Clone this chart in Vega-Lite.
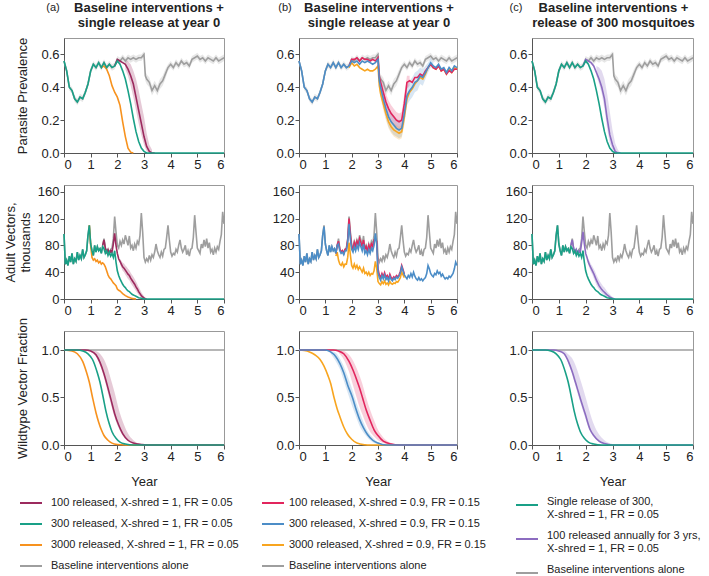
{
"$schema":"https://vega.github.io/schema/vega-lite/v6.json",
"padding":{"left":3,"top":1,"right":2,"bottom":2},
"background":"white",
"config":{
 "font":"Liberation Sans",
 "view":{"stroke":"#999","strokeWidth":1},
 "axis":{"labelFontSize":13,"titleFontSize":13,"titleFontWeight":"normal","labelColor":"#222","titleColor":"#222","domainColor":"#555","tickColor":"#555","tickSize":4,"labelPadding":1,"grid":false},
 "axisY":{"titlePadding":11},
 "axisX":{"titlePadding":12},
 "legend":{"symbolType":"stroke","symbolSize":484,"symbolStrokeWidth":2,"labelFontSize":11,"labelColor":"#222","labelLimit":400,"rowPadding":4,"padding":0,"direction":"vertical","symbolOpacity":1}
},
"datasets":{
"lab":[
{"col":"a","kind":"tag","lab":"(a)","t":0,"v":0.7},{"col":"b","kind":"tag","lab":"(b)","t":0,"v":0.7},{"col":"c","kind":"tag","lab":"(c)","t":0,"v":0.7},
{"col":"a","kind":"title","lab":"Baseline interventions +\nsingle release at year 0","t":3,"v":0.7},
{"col":"b","kind":"title","lab":"Baseline interventions +\nsingle release at year 0","t":3,"v":0.7},
{"col":"c","kind":"title","lab":"Baseline interventions +\nrelease of 300 mosquitoes","t":3,"v":0.7}
],
"prev":[
{"t":0,"s":"base","v":0.56,"lo":0.54,"hi":0.58},{"t":0.1,"s":"base","v":0.50,"lo":0.48,"hi":0.52},{"t":0.2,"s":"base","v":0.40,"lo":0.38,"hi":0.42},{"t":0.3,"s":"base","v":0.38,"lo":0.36,"hi":0.40},{"t":0.4,"s":"base","v":0.33,"lo":0.31,"hi":0.35},{"t":0.5,"s":"base","v":0.31,"lo":0.29,"hi":0.33},{"t":0.6,"s":"base","v":0.34,"lo":0.32,"hi":0.36},{"t":0.7,"s":"base","v":0.33,"lo":0.31,"hi":0.35},{"t":0.8,"s":"base","v":0.37,"lo":0.35,"hi":0.39},{"t":0.9,"s":"base","v":0.42,"lo":0.40,"hi":0.44},
{"t":1,"s":"base","v":0.50,"lo":0.48,"hi":0.52},{"t":1.1,"s":"base","v":0.54,"lo":0.52,"hi":0.56},{"t":1.2,"s":"base","v":0.52,"lo":0.50,"hi":0.54},{"t":1.3,"s":"base","v":0.55,"lo":0.53,"hi":0.57},{"t":1.4,"s":"base","v":0.52,"lo":0.50,"hi":0.54},{"t":1.5,"s":"base","v":0.55,"lo":0.53,"hi":0.57},{"t":1.6,"s":"base","v":0.52,"lo":0.50,"hi":0.54},{"t":1.7,"s":"base","v":0.54,"lo":0.52,"hi":0.56},{"t":1.8,"s":"base","v":0.52,"lo":0.50,"hi":0.54},{"t":1.9,"s":"base","v":0.53,"lo":0.51,"hi":0.55},
{"t":2,"s":"base","v":0.57,"lo":0.55,"hi":0.59},{"t":2.1,"s":"base","v":0.56,"lo":0.54,"hi":0.58},{"t":2.2,"s":"base","v":0.58,"lo":0.56,"hi":0.60},{"t":2.3,"s":"base","v":0.56,"lo":0.54,"hi":0.58},{"t":2.4,"s":"base","v":0.58,"lo":0.56,"hi":0.60},{"t":2.5,"s":"base","v":0.57,"lo":0.55,"hi":0.59},{"t":2.6,"s":"base","v":0.58,"lo":0.56,"hi":0.60},{"t":2.7,"s":"base","v":0.57,"lo":0.55,"hi":0.59},{"t":2.8,"s":"base","v":0.58,"lo":0.56,"hi":0.60},{"t":2.9,"s":"base","v":0.58,"lo":0.56,"hi":0.60},
{"t":3,"s":"base","v":0.60,"lo":0.58,"hi":0.62},{"t":3.05,"s":"base","v":0.47,"lo":0.44,"hi":0.50},{"t":3.1,"s":"base","v":0.45,"lo":0.42,"hi":0.48},{"t":3.2,"s":"base","v":0.43,"lo":0.40,"hi":0.46},{"t":3.3,"s":"base","v":0.38,"lo":0.35,"hi":0.41},{"t":3.4,"s":"base","v":0.41,"lo":0.38,"hi":0.44},{"t":3.5,"s":"base","v":0.38,"lo":0.35,"hi":0.41},{"t":3.6,"s":"base","v":0.42,"lo":0.39,"hi":0.45},{"t":3.7,"s":"base","v":0.44,"lo":0.41,"hi":0.47},{"t":3.8,"s":"base","v":0.48,"lo":0.45,"hi":0.51},{"t":3.9,"s":"base","v":0.52,"lo":0.50,"hi":0.54},
{"t":4,"s":"base","v":0.54,"lo":0.52,"hi":0.56},{"t":4.1,"s":"base","v":0.52,"lo":0.50,"hi":0.54},{"t":4.2,"s":"base","v":0.55,"lo":0.53,"hi":0.57},{"t":4.3,"s":"base","v":0.53,"lo":0.51,"hi":0.55},{"t":4.4,"s":"base","v":0.56,"lo":0.54,"hi":0.58},{"t":4.5,"s":"base","v":0.54,"lo":0.52,"hi":0.56},{"t":4.6,"s":"base","v":0.55,"lo":0.53,"hi":0.57},{"t":4.7,"s":"base","v":0.53,"lo":0.51,"hi":0.55},{"t":4.8,"s":"base","v":0.57,"lo":0.55,"hi":0.59},{"t":4.9,"s":"base","v":0.58,"lo":0.56,"hi":0.60},
{"t":5,"s":"base","v":0.59,"lo":0.57,"hi":0.61},{"t":5.1,"s":"base","v":0.57,"lo":0.55,"hi":0.59},{"t":5.2,"s":"base","v":0.58,"lo":0.56,"hi":0.60},{"t":5.3,"s":"base","v":0.56,"lo":0.54,"hi":0.58},{"t":5.4,"s":"base","v":0.58,"lo":0.56,"hi":0.60},{"t":5.5,"s":"base","v":0.57,"lo":0.55,"hi":0.59},{"t":5.6,"s":"base","v":0.56,"lo":0.54,"hi":0.58},{"t":5.7,"s":"base","v":0.58,"lo":0.56,"hi":0.60},{"t":5.8,"s":"base","v":0.56,"lo":0.54,"hi":0.58},{"t":5.9,"s":"base","v":0.57,"lo":0.55,"hi":0.59},{"t":6,"s":"base","v":0.58,"lo":0.56,"hi":0.60},

{"t":0,"s":"a300","v":0.56},{"t":0.1,"s":"a300","v":0.50},{"t":0.2,"s":"a300","v":0.40},{"t":0.3,"s":"a300","v":0.38},{"t":0.4,"s":"a300","v":0.33},{"t":0.5,"s":"a300","v":0.31},{"t":0.6,"s":"a300","v":0.34},{"t":0.7,"s":"a300","v":0.33},{"t":0.8,"s":"a300","v":0.37},{"t":0.9,"s":"a300","v":0.42},{"t":1,"s":"a300","v":0.50},{"t":1.1,"s":"a300","v":0.54},{"t":1.2,"s":"a300","v":0.52},{"t":1.3,"s":"a300","v":0.55},{"t":1.4,"s":"a300","v":0.52},{"t":1.5,"s":"a300","v":0.55},{"t":1.6,"s":"a300","v":0.52},{"t":1.7,"s":"a300","v":0.54},{"t":1.8,"s":"a300","v":0.52},{"t":1.9,"s":"a300","v":0.53},{"t":2,"s":"a300","v":0.56},{"t":2.1,"s":"a300","v":0.54},{"t":2.2,"s":"a300","v":0.50},{"t":2.3,"s":"a300","v":0.45},{"t":2.4,"s":"a300","v":0.38},{"t":2.5,"s":"a300","v":0.30},{"t":2.6,"s":"a300","v":0.21},{"t":2.7,"s":"a300","v":0.13},{"t":2.8,"s":"a300","v":0.07},{"t":2.9,"s":"a300","v":0.03},{"t":3,"s":"a300","v":0.01},{"t":3.1,"s":"a300","v":0},{"t":6,"s":"a300","v":0},

{"t":1.9,"s":"a100","v":0.53},{"t":2,"s":"a100","v":0.57},{"t":2.1,"s":"a100","v":0.56},{"t":2.2,"s":"a100","v":0.55},{"t":2.3,"s":"a100","v":0.54,"lo":0.51,"hi":0.57},{"t":2.4,"s":"a100","v":0.51,"lo":0.47,"hi":0.56},{"t":2.5,"s":"a100","v":0.47,"lo":0.41,"hi":0.54},{"t":2.6,"s":"a100","v":0.42,"lo":0.34,"hi":0.50},{"t":2.7,"s":"a100","v":0.34,"lo":0.26,"hi":0.45},{"t":2.8,"s":"a100","v":0.26,"lo":0.18,"hi":0.38},{"t":2.9,"s":"a100","v":0.18,"lo":0.11,"hi":0.30},{"t":3,"s":"a100","v":0.10,"lo":0.05,"hi":0.22},{"t":3.1,"s":"a100","v":0.04,"lo":0.01,"hi":0.12},{"t":3.2,"s":"a100","v":0.01,"lo":0,"hi":0.05},{"t":3.3,"s":"a100","v":0,"lo":0,"hi":0.02},{"t":3.4,"s":"a100","v":0},

{"t":1.4,"s":"a3000","v":0.52},{"t":1.5,"s":"a3000","v":0.53},{"t":1.6,"s":"a3000","v":0.51},{"t":1.7,"s":"a3000","v":0.47},{"t":1.8,"s":"a3000","v":0.41},{"t":1.9,"s":"a3000","v":0.37},{"t":2,"s":"a3000","v":0.34},{"t":2.1,"s":"a3000","v":0.29},{"t":2.2,"s":"a3000","v":0.19},{"t":2.3,"s":"a3000","v":0.10},{"t":2.4,"s":"a3000","v":0.03},{"t":2.5,"s":"a3000","v":0.005},{"t":2.6,"s":"a3000","v":0},

{"t":1.9,"s":"c100","v":0.53},{"t":2,"s":"c100","v":0.57},{"t":2.1,"s":"c100","v":0.56},{"t":2.2,"s":"c100","v":0.55},{"t":2.3,"s":"c100","v":0.53},{"t":2.4,"s":"c100","v":0.49,"lo":0.47,"hi":0.53},{"t":2.5,"s":"c100","v":0.45,"lo":0.42,"hi":0.52},{"t":2.6,"s":"c100","v":0.40,"lo":0.36,"hi":0.50},{"t":2.7,"s":"c100","v":0.33,"lo":0.27,"hi":0.45},{"t":2.8,"s":"c100","v":0.21,"lo":0.15,"hi":0.36},{"t":2.9,"s":"c100","v":0.11,"lo":0.06,"hi":0.25},{"t":3,"s":"c100","v":0.05,"lo":0.02,"hi":0.14},{"t":3.1,"s":"c100","v":0.01,"lo":0,"hi":0.06},{"t":3.2,"s":"c100","v":0,"lo":0,"hi":0.02},{"t":3.3,"s":"c100","v":0,"lo":0,"hi":0},

{"t":0,"s":"b300","v":0.56},{"t":0.1,"s":"b300","v":0.50},{"t":0.2,"s":"b300","v":0.40},{"t":0.3,"s":"b300","v":0.38},{"t":0.4,"s":"b300","v":0.33},{"t":0.5,"s":"b300","v":0.31},{"t":0.6,"s":"b300","v":0.34},{"t":0.7,"s":"b300","v":0.33},{"t":0.8,"s":"b300","v":0.37},{"t":0.9,"s":"b300","v":0.42},{"t":1,"s":"b300","v":0.50},{"t":1.1,"s":"b300","v":0.54},{"t":1.2,"s":"b300","v":0.52},{"t":1.3,"s":"b300","v":0.55},{"t":1.4,"s":"b300","v":0.52},{"t":1.5,"s":"b300","v":0.55},{"t":1.6,"s":"b300","v":0.52},{"t":1.7,"s":"b300","v":0.54},{"t":1.8,"s":"b300","v":0.52},{"t":1.9,"s":"b300","v":0.53},
{"t":2,"s":"b300","v":0.56},{"t":2.1,"s":"b300","v":0.55},{"t":2.2,"s":"b300","v":0.56},{"t":2.3,"s":"b300","v":0.54},{"t":2.4,"s":"b300","v":0.56},{"t":2.5,"s":"b300","v":0.55},{"t":2.6,"s":"b300","v":0.56},{"t":2.7,"s":"b300","v":0.55},{"t":2.8,"s":"b300","v":0.54},{"t":2.9,"s":"b300","v":0.55},{"t":3,"s":"b300","v":0.57,"lo":0.55,"hi":0.59},{"t":3.05,"s":"b300","v":0.44,"lo":0.40,"hi":0.48},{"t":3.1,"s":"b300","v":0.40,"lo":0.35,"hi":0.45},{"t":3.2,"s":"b300","v":0.33,"lo":0.28,"hi":0.38},{"t":3.3,"s":"b300","v":0.27,"lo":0.21,"hi":0.33},{"t":3.4,"s":"b300","v":0.22,"lo":0.16,"hi":0.28},{"t":3.5,"s":"b300","v":0.19,"lo":0.13,"hi":0.25},{"t":3.6,"s":"b300","v":0.17,"lo":0.11,"hi":0.23},{"t":3.7,"s":"b300","v":0.15,"lo":0.10,"hi":0.21},{"t":3.8,"s":"b300","v":0.14,"lo":0.09,"hi":0.20},{"t":3.9,"s":"b300","v":0.15,"lo":0.10,"hi":0.21},
{"t":4,"s":"b300","v":0.24,"lo":0.18,"hi":0.30},{"t":4.1,"s":"b300","v":0.35,"lo":0.29,"hi":0.41},{"t":4.2,"s":"b300","v":0.38,"lo":0.32,"hi":0.44},{"t":4.3,"s":"b300","v":0.40,"lo":0.34,"hi":0.46},{"t":4.4,"s":"b300","v":0.43,"lo":0.37,"hi":0.49},{"t":4.5,"s":"b300","v":0.44,"lo":0.38,"hi":0.50},{"t":4.6,"s":"b300","v":0.47,"lo":0.42,"hi":0.52},{"t":4.7,"s":"b300","v":0.46,"lo":0.41,"hi":0.51},{"t":4.8,"s":"b300","v":0.49,"lo":0.45,"hi":0.53},{"t":4.9,"s":"b300","v":0.52,"lo":0.49,"hi":0.55},{"t":5,"s":"b300","v":0.55,"lo":0.52,"hi":0.58},{"t":5.1,"s":"b300","v":0.53,"lo":0.51,"hi":0.55},{"t":5.2,"s":"b300","v":0.52},{"t":5.3,"s":"b300","v":0.54},{"t":5.4,"s":"b300","v":0.51},{"t":5.5,"s":"b300","v":0.52},{"t":5.6,"s":"b300","v":0.49},{"t":5.7,"s":"b300","v":0.52},{"t":5.8,"s":"b300","v":0.50},{"t":5.9,"s":"b300","v":0.53},{"t":6,"s":"b300","v":0.52},

{"t":1.9,"s":"b100","v":0.53},{"t":2,"s":"b100","v":0.57},{"t":2.1,"s":"b100","v":0.57},{"t":2.2,"s":"b100","v":0.58},{"t":2.3,"s":"b100","v":0.56},{"t":2.4,"s":"b100","v":0.58},{"t":2.5,"s":"b100","v":0.57},{"t":2.6,"s":"b100","v":0.57},{"t":2.7,"s":"b100","v":0.56},{"t":2.8,"s":"b100","v":0.57},{"t":2.9,"s":"b100","v":0.56},{"t":3,"s":"b100","v":0.58,"lo":0.56,"hi":0.60},{"t":3.05,"s":"b100","v":0.46,"lo":0.43,"hi":0.49},{"t":3.1,"s":"b100","v":0.43,"lo":0.39,"hi":0.47},{"t":3.2,"s":"b100","v":0.37,"lo":0.32,"hi":0.42},{"t":3.3,"s":"b100","v":0.31,"lo":0.26,"hi":0.36},{"t":3.4,"s":"b100","v":0.27,"lo":0.22,"hi":0.32},{"t":3.5,"s":"b100","v":0.24,"lo":0.19,"hi":0.29},{"t":3.6,"s":"b100","v":0.22,"lo":0.17,"hi":0.27},{"t":3.7,"s":"b100","v":0.20,"lo":0.15,"hi":0.25},{"t":3.8,"s":"b100","v":0.19,"lo":0.14,"hi":0.24},{"t":3.9,"s":"b100","v":0.20,"lo":0.15,"hi":0.25},{"t":4,"s":"b100","v":0.30,"lo":0.24,"hi":0.36},{"t":4.1,"s":"b100","v":0.43,"lo":0.39,"hi":0.47},{"t":4.2,"s":"b100","v":0.44,"lo":0.41,"hi":0.47},{"t":4.3,"s":"b100","v":0.43},{"t":4.4,"s":"b100","v":0.46},{"t":4.5,"s":"b100","v":0.46},{"t":4.6,"s":"b100","v":0.48},{"t":4.7,"s":"b100","v":0.47},{"t":4.8,"s":"b100","v":0.50},{"t":4.9,"s":"b100","v":0.52},{"t":5,"s":"b100","v":0.54},{"t":5.1,"s":"b100","v":0.52},{"t":5.2,"s":"b100","v":0.51},{"t":5.3,"s":"b100","v":0.53},{"t":5.4,"s":"b100","v":0.50},{"t":5.5,"s":"b100","v":0.51},{"t":5.6,"s":"b100","v":0.48},{"t":5.7,"s":"b100","v":0.50},{"t":5.8,"s":"b100","v":0.49},{"t":5.9,"s":"b100","v":0.51},{"t":6,"s":"b100","v":0.51},

{"t":1.9,"s":"b3000","v":0.52},{"t":2,"s":"b3000","v":0.55},{"t":2.1,"s":"b3000","v":0.53},{"t":2.2,"s":"b3000","v":0.54},{"t":2.3,"s":"b3000","v":0.52},{"t":2.4,"s":"b3000","v":0.51},{"t":2.5,"s":"b3000","v":0.50},{"t":2.6,"s":"b3000","v":0.51},{"t":2.7,"s":"b3000","v":0.50},{"t":2.8,"s":"b3000","v":0.50},{"t":2.9,"s":"b3000","v":0.51},{"t":3,"s":"b3000","v":0.53,"lo":0.51,"hi":0.55},{"t":3.05,"s":"b3000","v":0.41,"lo":0.38,"hi":0.44},{"t":3.1,"s":"b3000","v":0.36,"lo":0.33,"hi":0.39},{"t":3.2,"s":"b3000","v":0.30,"lo":0.26,"hi":0.34},{"t":3.3,"s":"b3000","v":0.24,"lo":0.20,"hi":0.28},{"t":3.4,"s":"b3000","v":0.19,"lo":0.15,"hi":0.23},{"t":3.5,"s":"b3000","v":0.16,"lo":0.12,"hi":0.20},{"t":3.6,"s":"b3000","v":0.14,"lo":0.10,"hi":0.18},{"t":3.7,"s":"b3000","v":0.13,"lo":0.09,"hi":0.17},{"t":3.8,"s":"b3000","v":0.12,"lo":0.08,"hi":0.16},{"t":3.9,"s":"b3000","v":0.13,"lo":0.09,"hi":0.17},{"t":4,"s":"b3000","v":0.22,"lo":0.17,"hi":0.27},{"t":4.1,"s":"b3000","v":0.33,"lo":0.29,"hi":0.37},{"t":4.2,"s":"b3000","v":0.37},{"t":4.3,"s":"b3000","v":0.39},{"t":4.4,"s":"b3000","v":0.42},{"t":4.5,"s":"b3000","v":0.44},{"t":4.6,"s":"b3000","v":0.46},{"t":4.7,"s":"b3000","v":0.45},{"t":4.8,"s":"b3000","v":0.48},{"t":4.9,"s":"b3000","v":0.52},{"t":5,"s":"b3000","v":0.54},{"t":5.1,"s":"b3000","v":0.52},{"t":5.2,"s":"b3000","v":0.51},{"t":5.3,"s":"b3000","v":0.53},{"t":5.4,"s":"b3000","v":0.50},{"t":5.5,"s":"b3000","v":0.51},{"t":5.6,"s":"b3000","v":0.48},{"t":5.7,"s":"b3000","v":0.51},{"t":5.8,"s":"b3000","v":0.49},{"t":5.9,"s":"b3000","v":0.52},{"t":6,"s":"b3000","v":0.51}
],
"vec":[
{"t":0,"s":"base","v":97},{"t":0.05,"s":"base","v":52},{"t":0.1,"s":"base","v":58},{"t":0.15,"s":"base","v":50},{"t":0.2,"s":"base","v":64},{"t":0.25,"s":"base","v":55},{"t":0.3,"s":"base","v":68},{"t":0.35,"s":"base","v":52},{"t":0.4,"s":"base","v":60},{"t":0.45,"s":"base","v":56},{"t":0.5,"s":"base","v":70},{"t":0.55,"s":"base","v":58},{"t":0.6,"s":"base","v":65},{"t":0.65,"s":"base","v":60},{"t":0.7,"s":"base","v":74},{"t":0.75,"s":"base","v":62},{"t":0.8,"s":"base","v":66},{"t":0.85,"s":"base","v":72},{"t":0.9,"s":"base","v":95},{"t":0.95,"s":"base","v":110},
{"t":1,"s":"base","v":82},{"t":1.05,"s":"base","v":72},{"t":1.1,"s":"base","v":65},{"t":1.15,"s":"base","v":80},{"t":1.2,"s":"base","v":70},{"t":1.25,"s":"base","v":78},{"t":1.3,"s":"base","v":72},{"t":1.35,"s":"base","v":75},{"t":1.4,"s":"base","v":68},{"t":1.45,"s":"base","v":80},{"t":1.5,"s":"base","v":90},{"t":1.55,"s":"base","v":75},{"t":1.6,"s":"base","v":70},{"t":1.65,"s":"base","v":72},{"t":1.7,"s":"base","v":68},{"t":1.75,"s":"base","v":74},{"t":1.8,"s":"base","v":76},{"t":1.85,"s":"base","v":90},{"t":1.9,"s":"base","v":123},{"t":1.95,"s":"base","v":100},
{"t":2,"s":"base","v":80},{"t":2.05,"s":"base","v":76},{"t":2.1,"s":"base","v":86},{"t":2.15,"s":"base","v":80},{"t":2.2,"s":"base","v":88},{"t":2.25,"s":"base","v":82},{"t":2.3,"s":"base","v":95},{"t":2.35,"s":"base","v":88},{"t":2.4,"s":"base","v":80},{"t":2.45,"s":"base","v":94},{"t":2.5,"s":"base","v":76},{"t":2.55,"s":"base","v":80},{"t":2.6,"s":"base","v":72},{"t":2.65,"s":"base","v":82},{"t":2.7,"s":"base","v":76},{"t":2.75,"s":"base","v":86},{"t":2.8,"s":"base","v":82},{"t":2.85,"s":"base","v":95},{"t":2.9,"s":"base","v":128},{"t":2.95,"s":"base","v":100},
{"t":3,"s":"base","v":62},{"t":3.05,"s":"base","v":55},{"t":3.1,"s":"base","v":60},{"t":3.15,"s":"base","v":56},{"t":3.2,"s":"base","v":65},{"t":3.25,"s":"base","v":58},{"t":3.3,"s":"base","v":66},{"t":3.35,"s":"base","v":62},{"t":3.4,"s":"base","v":70},{"t":3.45,"s":"base","v":82},{"t":3.5,"s":"base","v":72},{"t":3.55,"s":"base","v":66},{"t":3.6,"s":"base","v":62},{"t":3.65,"s":"base","v":70},{"t":3.7,"s":"base","v":64},{"t":3.75,"s":"base","v":74},{"t":3.8,"s":"base","v":76},{"t":3.85,"s":"base","v":92},{"t":3.9,"s":"base","v":110},{"t":3.95,"s":"base","v":88},
{"t":4,"s":"base","v":70},{"t":4.05,"s":"base","v":64},{"t":4.1,"s":"base","v":68},{"t":4.15,"s":"base","v":66},{"t":4.2,"s":"base","v":74},{"t":4.25,"s":"base","v":70},{"t":4.3,"s":"base","v":80},{"t":4.35,"s":"base","v":88},{"t":4.4,"s":"base","v":76},{"t":4.45,"s":"base","v":70},{"t":4.5,"s":"base","v":74},{"t":4.55,"s":"base","v":80},{"t":4.6,"s":"base","v":66},{"t":4.65,"s":"base","v":72},{"t":4.7,"s":"base","v":64},{"t":4.75,"s":"base","v":74},{"t":4.8,"s":"base","v":76},{"t":4.85,"s":"base","v":92},{"t":4.9,"s":"base","v":125},{"t":4.95,"s":"base","v":100},
{"t":5,"s":"base","v":76},{"t":5.05,"s":"base","v":72},{"t":5.1,"s":"base","v":68},{"t":5.15,"s":"base","v":82},{"t":5.2,"s":"base","v":76},{"t":5.25,"s":"base","v":88},{"t":5.3,"s":"base","v":78},{"t":5.35,"s":"base","v":90},{"t":5.4,"s":"base","v":76},{"t":5.45,"s":"base","v":84},{"t":5.5,"s":"base","v":70},{"t":5.55,"s":"base","v":74},{"t":5.6,"s":"base","v":66},{"t":5.65,"s":"base","v":76},{"t":5.7,"s":"base","v":70},{"t":5.75,"s":"base","v":78},{"t":5.8,"s":"base","v":74},{"t":5.85,"s":"base","v":86},{"t":5.9,"s":"base","v":96},{"t":5.95,"s":"base","v":130},{"t":6,"s":"base","v":112},

{"t":0,"s":"a300","v":97},{"t":0.05,"s":"a300","v":52},{"t":0.1,"s":"a300","v":58},{"t":0.15,"s":"a300","v":50},{"t":0.2,"s":"a300","v":64},{"t":0.25,"s":"a300","v":55},{"t":0.3,"s":"a300","v":68},{"t":0.35,"s":"a300","v":52},{"t":0.4,"s":"a300","v":60},{"t":0.45,"s":"a300","v":56},{"t":0.5,"s":"a300","v":70},{"t":0.55,"s":"a300","v":58},{"t":0.6,"s":"a300","v":65},{"t":0.65,"s":"a300","v":60},{"t":0.7,"s":"a300","v":74},{"t":0.75,"s":"a300","v":62},{"t":0.8,"s":"a300","v":66},{"t":0.85,"s":"a300","v":72},{"t":0.9,"s":"a300","v":95},{"t":0.95,"s":"a300","v":110},
{"t":1,"s":"a300","v":82},{"t":1.05,"s":"a300","v":72},{"t":1.1,"s":"a300","v":65},{"t":1.15,"s":"a300","v":80},{"t":1.2,"s":"a300","v":70},{"t":1.25,"s":"a300","v":78},{"t":1.3,"s":"a300","v":72},{"t":1.35,"s":"a300","v":75},{"t":1.4,"s":"a300","v":68},{"t":1.45,"s":"a300","v":78},{"t":1.5,"s":"a300","v":75},{"t":1.55,"s":"a300","v":68},{"t":1.6,"s":"a300","v":72},{"t":1.65,"s":"a300","v":65},{"t":1.7,"s":"a300","v":70},{"t":1.75,"s":"a300","v":64},{"t":1.8,"s":"a300","v":68},{"t":1.85,"s":"a300","v":62},{"t":1.9,"s":"a300","v":72},{"t":1.95,"s":"a300","v":55},
{"t":2,"s":"a300","v":42},{"t":2.05,"s":"a300","v":35},{"t":2.1,"s":"a300","v":30},{"t":2.15,"s":"a300","v":26},{"t":2.2,"s":"a300","v":22},{"t":2.25,"s":"a300","v":19},{"t":2.3,"s":"a300","v":17},{"t":2.35,"s":"a300","v":14},{"t":2.4,"s":"a300","v":12},{"t":2.45,"s":"a300","v":11},{"t":2.5,"s":"a300","v":9},{"t":2.55,"s":"a300","v":7},{"t":2.6,"s":"a300","v":6},{"t":2.65,"s":"a300","v":5},{"t":2.7,"s":"a300","v":4},{"t":2.75,"s":"a300","v":3},{"t":2.8,"s":"a300","v":2},{"t":2.85,"s":"a300","v":1.5},{"t":2.9,"s":"a300","v":1},{"t":2.95,"s":"a300","v":0.5},{"t":3,"s":"a300","v":0.2},{"t":3.1,"s":"a300","v":0},{"t":6,"s":"a300","v":0},

{"t":1.45,"s":"a100","v":80},{"t":1.5,"s":"a100","v":88},{"t":1.55,"s":"a100","v":76},{"t":1.6,"s":"a100","v":70},{"t":1.65,"s":"a100","v":74},{"t":1.7,"s":"a100","v":68},{"t":1.75,"s":"a100","v":72},{"t":1.8,"s":"a100","v":70},{"t":1.85,"s":"a100","v":82},{"t":1.9,"s":"a100","v":98},{"t":1.95,"s":"a100","v":80},{"t":2,"s":"a100","v":68},{"t":2.05,"s":"a100","v":60},
{"t":2.1,"s":"a100","v":56,"lo":52,"hi":60},{"t":2.15,"s":"a100","v":52,"lo":47,"hi":57},{"t":2.2,"s":"a100","v":48,"lo":42,"hi":54},{"t":2.25,"s":"a100","v":46,"lo":40,"hi":53},{"t":2.3,"s":"a100","v":43,"lo":36,"hi":50},{"t":2.35,"s":"a100","v":40,"lo":33,"hi":48},{"t":2.4,"s":"a100","v":37,"lo":30,"hi":45},{"t":2.45,"s":"a100","v":35,"lo":28,"hi":43},{"t":2.5,"s":"a100","v":31,"lo":24,"hi":39},{"t":2.55,"s":"a100","v":28,"lo":21,"hi":36},{"t":2.6,"s":"a100","v":25,"lo":18,"hi":33},{"t":2.65,"s":"a100","v":22,"lo":15,"hi":30},{"t":2.7,"s":"a100","v":18,"lo":12,"hi":26},{"t":2.75,"s":"a100","v":15,"lo":9,"hi":22},{"t":2.8,"s":"a100","v":11,"lo":6,"hi":18},{"t":2.85,"s":"a100","v":8,"lo":4,"hi":14},{"t":2.9,"s":"a100","v":5,"lo":2,"hi":10},{"t":2.95,"s":"a100","v":3,"lo":1,"hi":7},{"t":3,"s":"a100","v":1.5,"lo":0,"hi":4},{"t":3.05,"s":"a100","v":0.5,"lo":0,"hi":2},{"t":3.1,"s":"a100","v":0,"lo":0,"hi":0.5},

{"t":0.95,"s":"a3000","v":110},{"t":1,"s":"a3000","v":80},{"t":1.05,"s":"a3000","v":62},{"t":1.1,"s":"a3000","v":58},{"t":1.15,"s":"a3000","v":60},{"t":1.2,"s":"a3000","v":56},{"t":1.25,"s":"a3000","v":58},{"t":1.3,"s":"a3000","v":54},{"t":1.35,"s":"a3000","v":56},{"t":1.4,"s":"a3000","v":52},{"t":1.45,"s":"a3000","v":54},{"t":1.5,"s":"a3000","v":52},{"t":1.55,"s":"a3000","v":48},{"t":1.6,"s":"a3000","v":42},{"t":1.65,"s":"a3000","v":36},{"t":1.7,"s":"a3000","v":32},{"t":1.75,"s":"a3000","v":30},{"t":1.8,"s":"a3000","v":27},{"t":1.85,"s":"a3000","v":24},{"t":1.9,"s":"a3000","v":22},{"t":1.95,"s":"a3000","v":20},{"t":2,"s":"a3000","v":15},{"t":2.05,"s":"a3000","v":13},{"t":2.1,"s":"a3000","v":12},{"t":2.15,"s":"a3000","v":10},{"t":2.2,"s":"a3000","v":8},{"t":2.25,"s":"a3000","v":6.5},{"t":2.3,"s":"a3000","v":5},{"t":2.4,"s":"a3000","v":3},{"t":2.5,"s":"a3000","v":1.5},{"t":2.6,"s":"a3000","v":0.5},{"t":2.7,"s":"a3000","v":0},

{"t":1.45,"s":"c100","v":80},{"t":1.5,"s":"c100","v":88},{"t":1.55,"s":"c100","v":76},{"t":1.6,"s":"c100","v":70},{"t":1.65,"s":"c100","v":74},{"t":1.7,"s":"c100","v":68},{"t":1.75,"s":"c100","v":72},{"t":1.8,"s":"c100","v":70},{"t":1.85,"s":"c100","v":84},{"t":1.9,"s":"c100","v":100},{"t":1.95,"s":"c100","v":82},{"t":2,"s":"c100","v":68},{"t":2.05,"s":"c100","v":62},
{"t":2.1,"s":"c100","v":55,"lo":51,"hi":60},{"t":2.15,"s":"c100","v":50,"lo":45,"hi":56},{"t":2.2,"s":"c100","v":46,"lo":40,"hi":52},{"t":2.25,"s":"c100","v":42,"lo":36,"hi":49},{"t":2.3,"s":"c100","v":38,"lo":31,"hi":45},{"t":2.35,"s":"c100","v":33,"lo":26,"hi":41},{"t":2.4,"s":"c100","v":28,"lo":21,"hi":36},{"t":2.45,"s":"c100","v":24,"lo":17,"hi":32},{"t":2.5,"s":"c100","v":20,"lo":14,"hi":28},{"t":2.55,"s":"c100","v":17,"lo":11,"hi":25},{"t":2.6,"s":"c100","v":14,"lo":9,"hi":22},{"t":2.65,"s":"c100","v":12,"lo":7,"hi":19},{"t":2.7,"s":"c100","v":10,"lo":5,"hi":17},{"t":2.75,"s":"c100","v":8,"lo":4,"hi":14},{"t":2.8,"s":"c100","v":6,"lo":3,"hi":11},{"t":2.85,"s":"c100","v":4.5,"lo":2,"hi":9},{"t":2.9,"s":"c100","v":3,"lo":1,"hi":7},{"t":2.95,"s":"c100","v":2,"lo":0.5,"hi":5},{"t":3,"s":"c100","v":1,"lo":0,"hi":3},{"t":3.05,"s":"c100","v":0.3,"lo":0,"hi":1.5},{"t":3.1,"s":"c100","v":0,"lo":0,"hi":0.5},

{"t":0,"s":"b300","v":97},{"t":0.05,"s":"b300","v":52},{"t":0.1,"s":"b300","v":58},{"t":0.15,"s":"b300","v":50},{"t":0.2,"s":"b300","v":64},{"t":0.25,"s":"b300","v":55},{"t":0.3,"s":"b300","v":68},{"t":0.35,"s":"b300","v":52},{"t":0.4,"s":"b300","v":60},{"t":0.45,"s":"b300","v":56},{"t":0.5,"s":"b300","v":70},{"t":0.55,"s":"b300","v":58},{"t":0.6,"s":"b300","v":65},{"t":0.65,"s":"b300","v":60},{"t":0.7,"s":"b300","v":74},{"t":0.75,"s":"b300","v":62},{"t":0.8,"s":"b300","v":66},{"t":0.85,"s":"b300","v":72},{"t":0.9,"s":"b300","v":95},{"t":0.95,"s":"b300","v":108},
{"t":1,"s":"b300","v":82},{"t":1.05,"s":"b300","v":72},{"t":1.1,"s":"b300","v":65},{"t":1.15,"s":"b300","v":80},{"t":1.2,"s":"b300","v":70},{"t":1.25,"s":"b300","v":78},{"t":1.3,"s":"b300","v":72},{"t":1.35,"s":"b300","v":75},{"t":1.4,"s":"b300","v":68},{"t":1.45,"s":"b300","v":80},{"t":1.5,"s":"b300","v":82},{"t":1.55,"s":"b300","v":72},{"t":1.6,"s":"b300","v":68},{"t":1.65,"s":"b300","v":70},{"t":1.7,"s":"b300","v":66},{"t":1.75,"s":"b300","v":72},{"t":1.8,"s":"b300","v":72},{"t":1.85,"s":"b300","v":85},{"t":1.9,"s":"b300","v":112},{"t":1.95,"s":"b300","v":90},
{"t":2,"s":"b300","v":74},{"t":2.05,"s":"b300","v":70},{"t":2.1,"s":"b300","v":78},{"t":2.15,"s":"b300","v":72},{"t":2.2,"s":"b300","v":80},{"t":2.25,"s":"b300","v":74},{"t":2.3,"s":"b300","v":84},{"t":2.35,"s":"b300","v":78},{"t":2.4,"s":"b300","v":72},{"t":2.45,"s":"b300","v":82},{"t":2.5,"s":"b300","v":68},{"t":2.55,"s":"b300","v":72},{"t":2.6,"s":"b300","v":66},{"t":2.65,"s":"b300","v":74},{"t":2.7,"s":"b300","v":68},{"t":2.75,"s":"b300","v":76},{"t":2.8,"s":"b300","v":72},{"t":2.85,"s":"b300","v":80},{"t":2.9,"s":"b300","v":98},{"t":2.95,"s":"b300","v":82},
{"t":3,"s":"b300","v":40},{"t":3.05,"s":"b300","v":32},{"t":3.1,"s":"b300","v":28},{"t":3.15,"s":"b300","v":35},{"t":3.2,"s":"b300","v":30},{"t":3.25,"s":"b300","v":36},{"t":3.3,"s":"b300","v":29},{"t":3.35,"s":"b300","v":32},{"t":3.4,"s":"b300","v":27},{"t":3.45,"s":"b300","v":34},{"t":3.5,"s":"b300","v":29},{"t":3.55,"s":"b300","v":27},{"t":3.6,"s":"b300","v":31},{"t":3.65,"s":"b300","v":29},{"t":3.7,"s":"b300","v":33},{"t":3.75,"s":"b300","v":31},{"t":3.8,"s":"b300","v":34},{"t":3.85,"s":"b300","v":39},{"t":3.9,"s":"b300","v":48},{"t":3.95,"s":"b300","v":42},
{"t":4,"s":"b300","v":36},{"t":4.05,"s":"b300","v":33},{"t":4.1,"s":"b300","v":30},{"t":4.15,"s":"b300","v":35},{"t":4.2,"s":"b300","v":32},{"t":4.25,"s":"b300","v":38},{"t":4.3,"s":"b300","v":33},{"t":4.35,"s":"b300","v":40},{"t":4.4,"s":"b300","v":34},{"t":4.45,"s":"b300","v":30},{"t":4.5,"s":"b300","v":28},{"t":4.55,"s":"b300","v":32},{"t":4.6,"s":"b300","v":28},{"t":4.65,"s":"b300","v":30},{"t":4.7,"s":"b300","v":27},{"t":4.75,"s":"b300","v":30},{"t":4.8,"s":"b300","v":32},{"t":4.85,"s":"b300","v":38},{"t":4.9,"s":"b300","v":50},{"t":4.95,"s":"b300","v":45},
{"t":5,"s":"b300","v":38},{"t":5.05,"s":"b300","v":35},{"t":5.1,"s":"b300","v":33},{"t":5.15,"s":"b300","v":38},{"t":5.2,"s":"b300","v":36},{"t":5.25,"s":"b300","v":42},{"t":5.3,"s":"b300","v":38},{"t":5.35,"s":"b300","v":40},{"t":5.4,"s":"b300","v":34},{"t":5.45,"s":"b300","v":37},{"t":5.5,"s":"b300","v":33},{"t":5.55,"s":"b300","v":30},{"t":5.6,"s":"b300","v":32},{"t":5.65,"s":"b300","v":30},{"t":5.7,"s":"b300","v":34},{"t":5.75,"s":"b300","v":32},{"t":5.8,"s":"b300","v":35},{"t":5.85,"s":"b300","v":38},{"t":5.9,"s":"b300","v":45},{"t":5.95,"s":"b300","v":55},{"t":6,"s":"b300","v":50},

{"t":1.4,"s":"b100","v":68},{"t":1.45,"s":"b100","v":80},{"t":1.5,"s":"b100","v":86},{"t":1.55,"s":"b100","v":74},{"t":1.6,"s":"b100","v":70},{"t":1.65,"s":"b100","v":72},{"t":1.7,"s":"b100","v":68},{"t":1.75,"s":"b100","v":74},{"t":1.8,"s":"b100","v":75},{"t":1.85,"s":"b100","v":88},{"t":1.9,"s":"b100","v":120},{"t":1.95,"s":"b100","v":96},{"t":2,"s":"b100","v":78},{"t":2.05,"s":"b100","v":74},{"t":2.1,"s":"b100","v":84},{"t":2.15,"s":"b100","v":78},{"t":2.2,"s":"b100","v":86},{"t":2.25,"s":"b100","v":80},{"t":2.3,"s":"b100","v":90},{"t":2.35,"s":"b100","v":84},{"t":2.4,"s":"b100","v":78},{"t":2.45,"s":"b100","v":88},{"t":2.5,"s":"b100","v":74},{"t":2.55,"s":"b100","v":78},{"t":2.6,"s":"b100","v":70},{"t":2.65,"s":"b100","v":80},{"t":2.7,"s":"b100","v":74},{"t":2.75,"s":"b100","v":82},{"t":2.8,"s":"b100","v":78},{"t":2.85,"s":"b100","v":88},{"t":2.9,"s":"b100","v":90},{"t":2.95,"s":"b100","v":86},{"t":3,"s":"b100","v":45},{"t":3.05,"s":"b100","v":36},{"t":3.1,"s":"b100","v":32},{"t":3.15,"s":"b100","v":38},{"t":3.2,"s":"b100","v":33},{"t":3.25,"s":"b100","v":39},{"t":3.3,"s":"b100","v":32},{"t":3.35,"s":"b100","v":35},{"t":3.4,"s":"b100","v":30},{"t":3.45,"s":"b100","v":37},{"t":3.5,"s":"b100","v":32},{"t":3.55,"s":"b100","v":30},{"t":3.6,"s":"b100","v":33},{"t":3.65,"s":"b100","v":31},{"t":3.7,"s":"b100","v":35},{"t":3.75,"s":"b100","v":33},{"t":3.8,"s":"b100","v":36},{"t":3.85,"s":"b100","v":41},{"t":3.9,"s":"b100","v":50},{"t":3.95,"s":"b100","v":44},{"t":4,"s":"b100","v":37},

{"t":1.4,"s":"b3000","v":64},{"t":1.45,"s":"b3000","v":70},{"t":1.5,"s":"b3000","v":58},{"t":1.55,"s":"b3000","v":52},{"t":1.6,"s":"b3000","v":50},{"t":1.65,"s":"b3000","v":54},{"t":1.7,"s":"b3000","v":48},{"t":1.75,"s":"b3000","v":52},{"t":1.8,"s":"b3000","v":52},{"t":1.85,"s":"b3000","v":62},{"t":1.9,"s":"b3000","v":84},{"t":1.95,"s":"b3000","v":66},{"t":2,"s":"b3000","v":50},{"t":2.05,"s":"b3000","v":46},{"t":2.1,"s":"b3000","v":52},{"t":2.15,"s":"b3000","v":46},{"t":2.2,"s":"b3000","v":50},{"t":2.25,"s":"b3000","v":44},{"t":2.3,"s":"b3000","v":48},{"t":2.35,"s":"b3000","v":44},{"t":2.4,"s":"b3000","v":40},{"t":2.45,"s":"b3000","v":46},{"t":2.5,"s":"b3000","v":38},{"t":2.55,"s":"b3000","v":40},{"t":2.6,"s":"b3000","v":36},{"t":2.65,"s":"b3000","v":40},{"t":2.7,"s":"b3000","v":35},{"t":2.75,"s":"b3000","v":38},{"t":2.8,"s":"b3000","v":37},{"t":2.85,"s":"b3000","v":42},{"t":2.9,"s":"b3000","v":56},{"t":2.95,"s":"b3000","v":46},{"t":3,"s":"b3000","v":26},{"t":3.05,"s":"b3000","v":23},{"t":3.1,"s":"b3000","v":21},{"t":3.15,"s":"b3000","v":26},{"t":3.2,"s":"b3000","v":23},{"t":3.25,"s":"b3000","v":27},{"t":3.3,"s":"b3000","v":22},{"t":3.35,"s":"b3000","v":24},{"t":3.4,"s":"b3000","v":21},{"t":3.45,"s":"b3000","v":26},{"t":3.5,"s":"b3000","v":23},{"t":3.55,"s":"b3000","v":22},{"t":3.6,"s":"b3000","v":24},{"t":3.65,"s":"b3000","v":23},{"t":3.7,"s":"b3000","v":26},{"t":3.75,"s":"b3000","v":25},{"t":3.8,"s":"b3000","v":28},{"t":3.85,"s":"b3000","v":32},{"t":3.9,"s":"b3000","v":40},{"t":3.95,"s":"b3000","v":36},{"t":4,"s":"b3000","v":32}
],
"wt":[
{"t":0,"s":"base","v":1},{"t":6,"s":"base","v":1},
{"t":0,"s":"a3000","v":1},{"t":0.3,"s":"a3000","v":0.99},{"t":0.5,"s":"a3000","v":0.96},{"t":0.7,"s":"a3000","v":0.88},{"t":0.85,"s":"a3000","v":0.76},{"t":0.95,"s":"a3000","v":0.66},{"t":1.07,"s":"a3000","v":0.5},{"t":1.2,"s":"a3000","v":0.34},{"t":1.3,"s":"a3000","v":0.24},{"t":1.4,"s":"a3000","v":0.16},{"t":1.5,"s":"a3000","v":0.1},{"t":1.65,"s":"a3000","v":0.05},{"t":1.8,"s":"a3000","v":0.02},{"t":2,"s":"a3000","v":0.005},{"t":2.3,"s":"a3000","v":0},{"t":6,"s":"a3000","v":0},
{"t":0,"s":"a300","v":1},{"t":0.5,"s":"a300","v":1},{"t":0.7,"s":"a300","v":0.99},{"t":0.9,"s":"a300","v":0.96},{"t":1.07,"s":"a300","v":0.9},{"t":1.25,"s":"a300","v":0.76},{"t":1.35,"s":"a300","v":0.66},{"t":1.47,"s":"a300","v":0.5},{"t":1.57,"s":"a300","v":0.36},{"t":1.7,"s":"a300","v":0.22},{"t":1.8,"s":"a300","v":0.14},{"t":1.95,"s":"a300","v":0.07},{"t":2.1,"s":"a300","v":0.03},{"t":2.3,"s":"a300","v":0.01},{"t":2.6,"s":"a300","v":0},{"t":6,"s":"a300","v":0},
{"t":0,"s":"a100","v":1},{"t":0.8,"s":"a100","v":1},{"t":1,"s":"a100","v":0.99,"lo":0.98,"hi":1},{"t":1.2,"s":"a100","v":0.95,"lo":0.93,"hi":0.99},{"t":1.35,"s":"a100","v":0.87,"lo":0.84,"hi":0.96},{"t":1.5,"s":"a100","v":0.75,"lo":0.71,"hi":0.9},{"t":1.62,"s":"a100","v":0.63,"lo":0.58,"hi":0.82},{"t":1.76,"s":"a100","v":0.48,"lo":0.43,"hi":0.69},{"t":1.9,"s":"a100","v":0.33,"lo":0.29,"hi":0.55},{"t":2.05,"s":"a100","v":0.21,"lo":0.18,"hi":0.38},{"t":2.2,"s":"a100","v":0.12,"lo":0.1,"hi":0.25},{"t":2.4,"s":"a100","v":0.05,"lo":0.04,"hi":0.12},{"t":2.6,"s":"a100","v":0.02,"lo":0.015,"hi":0.05},{"t":2.9,"s":"a100","v":0.005,"lo":0.003,"hi":0.01},{"t":3.1,"s":"a100","v":0,"lo":0,"hi":0.005},{"t":3.3,"s":"a100","v":0,"lo":0,"hi":0},{"t":6,"s":"a100","v":0},
{"t":0,"s":"c100","v":1},{"t":0.8,"s":"c100","v":1},{"t":1,"s":"c100","v":0.99,"lo":0.99,"hi":1},{"t":1.2,"s":"c100","v":0.96,"lo":0.95,"hi":0.99},{"t":1.37,"s":"c100","v":0.87,"lo":0.85,"hi":0.95},{"t":1.5,"s":"c100","v":0.77,"lo":0.74,"hi":0.91},{"t":1.62,"s":"c100","v":0.66,"lo":0.62,"hi":0.84},{"t":1.8,"s":"c100","v":0.49,"lo":0.45,"hi":0.69},{"t":1.99,"s":"c100","v":0.32,"lo":0.28,"hi":0.51},{"t":2.17,"s":"c100","v":0.16,"lo":0.14,"hi":0.33},{"t":2.3,"s":"c100","v":0.1,"lo":0.09,"hi":0.22},{"t":2.5,"s":"c100","v":0.04,"lo":0.03,"hi":0.11},{"t":2.7,"s":"c100","v":0.015,"lo":0.01,"hi":0.05},{"t":3,"s":"c100","v":0,"lo":0,"hi":0.01},{"t":6,"s":"c100","v":0},
{"t":0,"s":"b3000","v":1},{"t":0.2,"s":"b3000","v":0.995},{"t":0.4,"s":"b3000","v":0.98},{"t":0.6,"s":"b3000","v":0.95},{"t":0.8,"s":"b3000","v":0.9},{"t":0.95,"s":"b3000","v":0.83},{"t":1.1,"s":"b3000","v":0.73},{"t":1.2,"s":"b3000","v":0.65},{"t":1.33,"s":"b3000","v":0.5},{"t":1.45,"s":"b3000","v":0.38},{"t":1.55,"s":"b3000","v":0.3},{"t":1.7,"s":"b3000","v":0.19},{"t":1.85,"s":"b3000","v":0.11},{"t":2,"s":"b3000","v":0.06},{"t":2.2,"s":"b3000","v":0.02},{"t":2.5,"s":"b3000","v":0.003},{"t":2.7,"s":"b3000","v":0},{"t":6,"s":"b3000","v":0},
{"t":0,"s":"b300","v":1},{"t":1,"s":"b300","v":1},{"t":1.2,"s":"b300","v":0.98,"lo":0.96,"hi":0.99},{"t":1.4,"s":"b300","v":0.93,"lo":0.88,"hi":0.97},{"t":1.55,"s":"b300","v":0.86,"lo":0.8,"hi":0.91},{"t":1.7,"s":"b300","v":0.76,"lo":0.68,"hi":0.83},{"t":1.85,"s":"b300","v":0.63,"lo":0.55,"hi":0.72},{"t":2.03,"s":"b300","v":0.5,"lo":0.4,"hi":0.58},{"t":2.15,"s":"b300","v":0.39,"lo":0.31,"hi":0.47},{"t":2.3,"s":"b300","v":0.27,"lo":0.2,"hi":0.35},{"t":2.45,"s":"b300","v":0.18,"lo":0.13,"hi":0.24},{"t":2.6,"s":"b300","v":0.11,"lo":0.08,"hi":0.15},{"t":2.8,"s":"b300","v":0.05,"lo":0.03,"hi":0.08},{"t":3,"s":"b300","v":0.02,"lo":0.01,"hi":0.03},{"t":3.3,"s":"b300","v":0,"lo":0,"hi":0.005},{"t":6,"s":"b300","v":0},
{"t":0,"s":"b100","v":1},{"t":1.3,"s":"b100","v":1},{"t":1.5,"s":"b100","v":0.99,"lo":0.97,"hi":1},{"t":1.7,"s":"b100","v":0.96,"lo":0.9,"hi":0.99},{"t":1.9,"s":"b100","v":0.88,"lo":0.77,"hi":0.95},{"t":2.05,"s":"b100","v":0.79,"lo":0.63,"hi":0.89},{"t":2.2,"s":"b100","v":0.68,"lo":0.49,"hi":0.8},{"t":2.3,"s":"b100","v":0.6,"lo":0.4,"hi":0.73},{"t":2.41,"s":"b100","v":0.5,"lo":0.32,"hi":0.64},{"t":2.55,"s":"b100","v":0.37,"lo":0.22,"hi":0.5},{"t":2.7,"s":"b100","v":0.26,"lo":0.14,"hi":0.37},{"t":2.85,"s":"b100","v":0.16,"lo":0.09,"hi":0.26},{"t":3,"s":"b100","v":0.1,"lo":0.05,"hi":0.16},{"t":3.2,"s":"b100","v":0.04,"lo":0.02,"hi":0.08},{"t":3.5,"s":"b100","v":0.01,"lo":0.004,"hi":0.02},{"t":3.8,"s":"b100","v":0,"lo":0,"hi":0.003},{"t":6,"s":"b100","v":0}
]
},
"columns":3,
"spacing":{"row":32,"column":75},
"bounds":"flush",
"align":"each",
"resolve":{"scale":{"color":"independent","x":"independent","y":"independent"},"legend":{"color":"independent"}},
"concat":[
 {"width":160,"height":115,
  "encoding":{
   "x":{"field":"t","type":"quantitative","scale":{"domain":[0,6],"nice":false},"axis":{"values":[0,1,2,3,4,5,6],"title":null}},
   "y":{"field":"v","type":"quantitative","scale":{"domain":[0,0.7],"nice":false},"axis":{"values":[0,0.2,0.4,0.6],"format":".1f","title":"Parasite Prevalence"}}},
  "layer":[
   {"data":{"name":"prev"},"transform":[{"filter":"isValid(datum.lo) && indexof(['base','a100','a300','a3000'], datum.s) >= 0"}],"mark":{"type":"area","opacity":0.25},"encoding":{"y":{"field":"lo","type":"quantitative","title":"Parasite Prevalence"},"y2":{"field":"hi"},"color":{"field":"s","type":"nominal","scale":{"domain":["a100","a300","a3000","base"],"range":["#9C2A5E","#19A087","#F7921E","#9E9E9E"]},"legend":null}}},
   {"data":{"name":"prev"},"transform":[{"filter":"datum.s=='base'"}],"mark":{"type":"line","strokeWidth":1.6,"color":"#9E9E9E"},"encoding":{}},
   {"data":{"name":"prev"},"transform":[{"filter":"datum.s=='a3000'"}],"mark":{"type":"line","strokeWidth":1.6,"color":"#F7921E"},"encoding":{}},
   {"data":{"name":"prev"},"transform":[{"filter":"datum.s=='a100'"}],"mark":{"type":"line","strokeWidth":1.6,"color":"#9C2A5E"},"encoding":{}},
   {"data":{"name":"prev"},"transform":[{"filter":"datum.s=='a300'"}],"mark":{"type":"line","strokeWidth":1.6,"color":"#19A087"},"encoding":{}},
   {"data":{"name":"lab"},"transform":[{"filter":"datum.col=='a' && datum.kind=='tag'"}],"mark":{"type":"text","fontSize":11,"clip":false,"dx":-11,"dy":-30,"color":"#222"},"encoding":{"text":{"field":"lab","type":"nominal"}}},
   {"data":{"name":"lab"},"transform":[{"filter":"datum.col=='a' && datum.kind=='title'"}],"mark":{"type":"text","fontSize":13,"fontWeight":"bold","lineBreak":"\n","lineHeight":15,"baseline":"middle","clip":false,"dx":5,"dy":-30,"color":"#222"},"encoding":{"text":{"field":"lab","type":"nominal"}}}
  ]},
 {"width":158,"height":115,
  "encoding":{
   "x":{"field":"t","type":"quantitative","scale":{"domain":[0,6],"nice":false},"axis":{"values":[0,1,2,3,4,5,6],"title":null}},
   "y":{"field":"v","type":"quantitative","scale":{"domain":[0,0.7],"nice":false},"axis":{"values":[0,0.2,0.4,0.6],"format":".1f","title":null}}},
  "layer":[
   {"data":{"name":"prev"},"transform":[{"filter":"isValid(datum.lo) && indexof(['base','b100','b300','b3000'], datum.s) >= 0"}],"mark":{"type":"area","opacity":0.22},"encoding":{"y":{"field":"lo","type":"quantitative","title":null},"y2":{"field":"hi"},"color":{"field":"s","type":"nominal","scale":{"domain":["b100","b300","b3000","base"],"range":["#E2255D","#4C8DC7","#F8A51F","#9E9E9E"]},"legend":null}}},
   {"data":{"name":"prev"},"transform":[{"filter":"datum.s=='base'"}],"mark":{"type":"line","strokeWidth":1.6,"color":"#9E9E9E"},"encoding":{}},
   {"data":{"name":"prev"},"transform":[{"filter":"datum.s=='b3000'"}],"mark":{"type":"line","strokeWidth":1.6,"color":"#F8A51F"},"encoding":{}},
   {"data":{"name":"prev"},"transform":[{"filter":"datum.s=='b100'"}],"mark":{"type":"line","strokeWidth":1.6,"color":"#E2255D"},"encoding":{}},
   {"data":{"name":"prev"},"transform":[{"filter":"datum.s=='b300'"}],"mark":{"type":"line","strokeWidth":1.6,"color":"#4C8DC7"},"encoding":{}},
   {"data":{"name":"lab"},"transform":[{"filter":"datum.col=='b' && datum.kind=='tag'"}],"mark":{"type":"text","fontSize":11,"clip":false,"dx":-14,"dy":-30,"color":"#222"},"encoding":{"text":{"field":"lab","type":"nominal"}}},
   {"data":{"name":"lab"},"transform":[{"filter":"datum.col=='b' && datum.kind=='title'"}],"mark":{"type":"text","fontSize":13,"fontWeight":"bold","lineBreak":"\n","lineHeight":15,"baseline":"middle","clip":false,"dx":1,"dy":-30,"color":"#222"},"encoding":{"text":{"field":"lab","type":"nominal"}}}
  ]},
 {"width":161,"height":115,
  "encoding":{
   "x":{"field":"t","type":"quantitative","scale":{"domain":[0,6],"nice":false},"axis":{"values":[0,1,2,3,4,5,6],"title":null}},
   "y":{"field":"v","type":"quantitative","scale":{"domain":[0,0.7],"nice":false},"axis":{"values":[0,0.2,0.4,0.6],"format":".1f","title":null}}},
  "layer":[
   {"data":{"name":"prev"},"transform":[{"filter":"isValid(datum.lo) && indexof(['base','a300','c100'], datum.s) >= 0"}],"mark":{"type":"area","opacity":0.25},"encoding":{"y":{"field":"lo","type":"quantitative","title":null},"y2":{"field":"hi"},"color":{"field":"s","type":"nominal","scale":{"domain":["a300","c100","base"],"range":["#19A087","#8C6CC0","#9E9E9E"]},"legend":null}}},
   {"data":{"name":"prev"},"transform":[{"filter":"datum.s=='base'"}],"mark":{"type":"line","strokeWidth":1.6,"color":"#9E9E9E"},"encoding":{}},
   {"data":{"name":"prev"},"transform":[{"filter":"datum.s=='c100'"}],"mark":{"type":"line","strokeWidth":1.6,"color":"#8C6CC0"},"encoding":{}},
   {"data":{"name":"prev"},"transform":[{"filter":"datum.s=='a300'"}],"mark":{"type":"line","strokeWidth":1.6,"color":"#19A087"},"encoding":{}},
   {"data":{"name":"lab"},"transform":[{"filter":"datum.col=='c' && datum.kind=='tag'"}],"mark":{"type":"text","fontSize":11,"clip":false,"dx":-16,"dy":-30,"color":"#222"},"encoding":{"text":{"field":"lab","type":"nominal"}}},
   {"data":{"name":"lab"},"transform":[{"filter":"datum.col=='c' && datum.kind=='title'"}],"mark":{"type":"text","fontSize":13,"fontWeight":"bold","lineBreak":"\n","lineHeight":15,"baseline":"middle","clip":false,"dx":1,"dy":-30,"color":"#222"},"encoding":{"text":{"field":"lab","type":"nominal"}}}
  ]},
 {"width":160,"height":114,
  "data":{"name":"vec"},
  "encoding":{
   "x":{"field":"t","type":"quantitative","scale":{"domain":[0,6],"nice":false},"axis":{"values":[0,1,2,3,4,5,6],"title":null}},
   "y":{"field":"v","type":"quantitative","scale":{"domain":[0,170],"nice":false},"axis":{"values":[0,40,80,120,160],"title":["Adult Vectors,","thousands"],"titlePadding":5}},
   "color":{"field":"s","type":"nominal","scale":{"domain":["a100","a300","a3000","base"],"range":["#9C2A5E","#19A087","#F7921E","#9E9E9E"]},"legend":null}},
  "layer":[
   {"transform":[{"filter":"isValid(datum.lo) && indexof(['base','a100','a300','a3000'], datum.s) >= 0"}],"mark":{"type":"area","opacity":0.25},"encoding":{"y":{"field":"lo","type":"quantitative","title":["Adult Vectors,","thousands"]},"y2":{"field":"hi"}}},
   {"transform":[{"filter":"datum.s=='base'"}],"mark":{"type":"line","strokeWidth":1.6},"encoding":{}},
   {"transform":[{"filter":"datum.s=='a3000'"}],"mark":{"type":"line","strokeWidth":1.6},"encoding":{}},
   {"transform":[{"filter":"datum.s=='a100'"}],"mark":{"type":"line","strokeWidth":1.6},"encoding":{}},
   {"transform":[{"filter":"datum.s=='a300'"}],"mark":{"type":"line","strokeWidth":1.6},"encoding":{}}
  ]},
 {"width":158,"height":114,
  "data":{"name":"vec"},
  "encoding":{
   "x":{"field":"t","type":"quantitative","scale":{"domain":[0,6],"nice":false},"axis":{"values":[0,1,2,3,4,5,6],"title":null}},
   "y":{"field":"v","type":"quantitative","scale":{"domain":[0,170],"nice":false},"axis":{"values":[0,40,80,120,160],"title":null}},
   "color":{"field":"s","type":"nominal","scale":{"domain":["b100","b300","b3000","base"],"range":["#E2255D","#4C8DC7","#F8A51F","#9E9E9E"]},"legend":null}},
  "layer":[
   {"transform":[{"filter":"datum.s=='base'"}],"mark":{"type":"line","strokeWidth":1.6},"encoding":{}},
   {"transform":[{"filter":"datum.s=='b3000'"}],"mark":{"type":"line","strokeWidth":1.6},"encoding":{}},
   {"transform":[{"filter":"datum.s=='b100'"}],"mark":{"type":"line","strokeWidth":1.6},"encoding":{}},
   {"transform":[{"filter":"datum.s=='b300'"}],"mark":{"type":"line","strokeWidth":1.6},"encoding":{}}
  ]},
 {"width":161,"height":114,
  "data":{"name":"vec"},
  "encoding":{
   "x":{"field":"t","type":"quantitative","scale":{"domain":[0,6],"nice":false},"axis":{"values":[0,1,2,3,4,5,6],"title":null}},
   "y":{"field":"v","type":"quantitative","scale":{"domain":[0,170],"nice":false},"axis":{"values":[0,40,80,120,160],"title":null}},
   "color":{"field":"s","type":"nominal","scale":{"domain":["a300","c100","base"],"range":["#19A087","#8C6CC0","#9E9E9E"]},"legend":null}},
  "layer":[
   {"transform":[{"filter":"isValid(datum.lo) && indexof(['base','a300','c100'], datum.s) >= 0"}],"mark":{"type":"area","opacity":0.25},"encoding":{"y":{"field":"lo","type":"quantitative","title":null},"y2":{"field":"hi"}}},
   {"transform":[{"filter":"datum.s=='base'"}],"mark":{"type":"line","strokeWidth":1.6},"encoding":{}},
   {"transform":[{"filter":"datum.s=='c100'"}],"mark":{"type":"line","strokeWidth":1.6},"encoding":{}},
   {"transform":[{"filter":"datum.s=='a300'"}],"mark":{"type":"line","strokeWidth":1.6},"encoding":{}}
  ]},
 {"width":160,"height":114,
  "data":{"name":"wt"},
  "encoding":{
   "x":{"field":"t","type":"quantitative","scale":{"domain":[0,6],"nice":false},"axis":{"values":[0,1,2,3,4,5,6],"title":"Year"}},
   "y":{"field":"v","type":"quantitative","scale":{"domain":[0,1.2],"nice":false},"axis":{"values":[0,0.5,1],"format":".1f","title":"Wildtype Vector Fraction"}},
   "color":{"field":"s","type":"nominal","scale":{"domain":["a100","a300","a3000","base"],"range":["#9C2A5E","#19A087","#F7921E","#9E9E9E"]},
    "legend":{"orient":"none","legendX":-45,"legendY":160,"title":null,"labelOffset":8,"labelExpr":"datum.label=='a100'?'100 released, X-shred = 1, FR = 0.05':datum.label=='a300'?'300 released, X-shred = 1, FR = 0.05':datum.label=='a3000'?'3000 released, X-shred = 1, FR = 0.05':'Baseline interventions alone'"}}},
  "layer":[
   {"transform":[{"filter":"isValid(datum.lo) && indexof(['base','a100','a300','a3000'], datum.s) >= 0"}],"mark":{"type":"area","opacity":0.25,"interpolate":"monotone"},"encoding":{"y":{"field":"lo","type":"quantitative","title":"Wildtype Vector Fraction"},"y2":{"field":"hi"}}},
   {"transform":[{"filter":"datum.s=='base'"}],"mark":{"type":"line","strokeWidth":1.6},"encoding":{}},
   {"transform":[{"filter":"datum.s=='a3000'"}],"mark":{"type":"line","strokeWidth":1.6,"interpolate":"monotone"},"encoding":{}},
   {"transform":[{"filter":"datum.s=='a100'"}],"mark":{"type":"line","strokeWidth":1.6,"interpolate":"monotone"},"encoding":{}},
   {"transform":[{"filter":"datum.s=='a300'"}],"mark":{"type":"line","strokeWidth":1.6,"interpolate":"monotone"},"encoding":{}}
  ]},
 {"width":158,"height":114,
  "data":{"name":"wt"},
  "encoding":{
   "x":{"field":"t","type":"quantitative","scale":{"domain":[0,6],"nice":false},"axis":{"values":[0,1,2,3,4,5,6],"title":"Year"}},
   "y":{"field":"v","type":"quantitative","scale":{"domain":[0,1.2],"nice":false},"axis":{"values":[0,0.5,1],"format":".1f","title":null}},
   "color":{"field":"s","type":"nominal","scale":{"domain":["b100","b300","b3000","base"],"range":["#E2255D","#4C8DC7","#F8A51F","#9E9E9E"]},
    "legend":{"orient":"none","legendX":-38,"legendY":160,"title":null,"labelOffset":4,"labelExpr":"datum.label=='b100'?'100 released, X-shred = 0.9, FR = 0.15':datum.label=='b300'?'300 released, X-shred = 0.9, FR = 0.15':datum.label=='b3000'?'3000 released, X-shred = 0.9, FR = 0.15':'Baseline interventions alone'"}}},
  "layer":[
   {"transform":[{"filter":"isValid(datum.lo) && indexof(['base','b100','b300','b3000'], datum.s) >= 0"}],"mark":{"type":"area","opacity":0.22,"interpolate":"monotone"},"encoding":{"y":{"field":"lo","type":"quantitative","title":null},"y2":{"field":"hi"}}},
   {"transform":[{"filter":"datum.s=='base'"}],"mark":{"type":"line","strokeWidth":1.6},"encoding":{}},
   {"transform":[{"filter":"datum.s=='b3000'"}],"mark":{"type":"line","strokeWidth":1.6,"interpolate":"monotone"},"encoding":{}},
   {"transform":[{"filter":"datum.s=='b100'"}],"mark":{"type":"line","strokeWidth":1.6,"interpolate":"monotone"},"encoding":{}},
   {"transform":[{"filter":"datum.s=='b300'"}],"mark":{"type":"line","strokeWidth":1.6,"interpolate":"monotone"},"encoding":{}}
  ]},
 {"width":161,"height":114,
  "data":{"name":"wt"},
  "encoding":{
   "x":{"field":"t","type":"quantitative","scale":{"domain":[0,6],"nice":false},"axis":{"values":[0,1,2,3,4,5,6],"title":"Year"}},
   "y":{"field":"v","type":"quantitative","scale":{"domain":[0,1.2],"nice":false},"axis":{"values":[0,0.5,1],"format":".1f","title":null}},
   "color":{"field":"s","type":"nominal","scale":{"domain":["a300","c100","base"],"range":["#19A087","#8C6CC0","#9E9E9E"]},
    "legend":{"orient":"none","legendX":-17,"legendY":162,"title":null,"labelOffset":8,"rowPadding":7,"labelBaseline":"alphabetic","labelExpr":"datum.label=='a300'?['Single release of 300,','X-shred = 1, FR = 0.05']:datum.label=='c100'?['100 released annually for 3 yrs,','X-shred = 1, FR = 0.05']:'Baseline interventions alone'"}}},
  "layer":[
   {"transform":[{"filter":"isValid(datum.lo) && indexof(['base','a300','c100'], datum.s) >= 0"}],"mark":{"type":"area","opacity":0.25,"interpolate":"monotone"},"encoding":{"y":{"field":"lo","type":"quantitative","title":null},"y2":{"field":"hi"}}},
   {"transform":[{"filter":"datum.s=='base'"}],"mark":{"type":"line","strokeWidth":1.6},"encoding":{}},
   {"transform":[{"filter":"datum.s=='c100'"}],"mark":{"type":"line","strokeWidth":1.6,"interpolate":"monotone"},"encoding":{}},
   {"transform":[{"filter":"datum.s=='a300'"}],"mark":{"type":"line","strokeWidth":1.6,"interpolate":"monotone"},"encoding":{}}
  ]}
]
}
